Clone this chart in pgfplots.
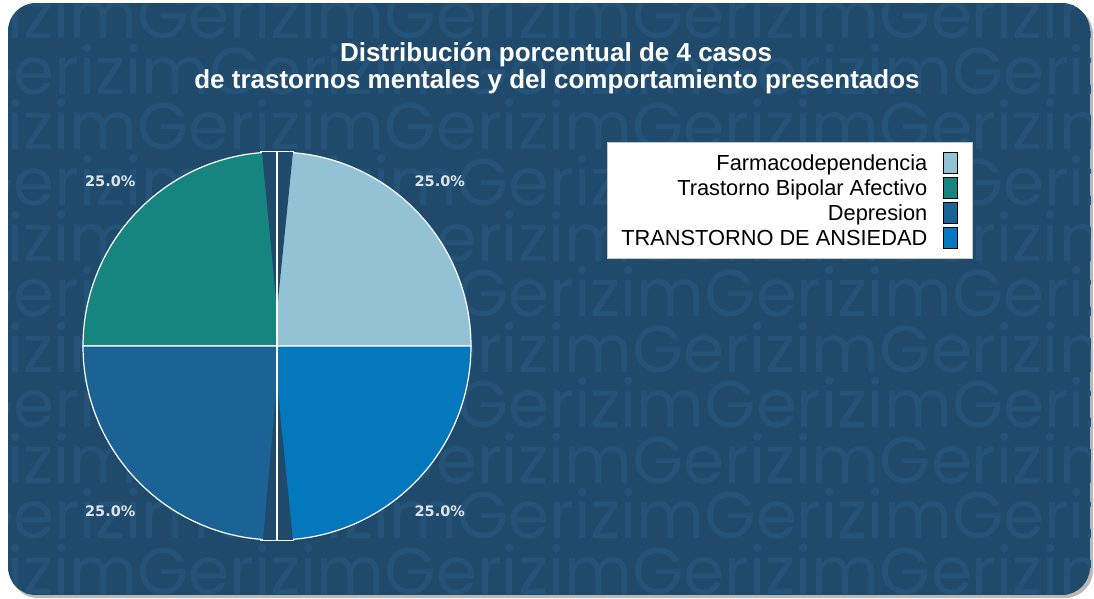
\documentclass[border=0pt]{standalone}
\usepackage{pgfplots}
\usepackage{pgfplotstable}
\pgfplotsset{compat=1.18}
\usetikzlibrary{calc}
\usepackage{fontspec}
\setmainfont{Liberation Sans}
\newfontfamily\wmfont{Poppins}
\newfontfamily\lblfont{DejaVu Sans}
\definecolor{bg}{HTML}{1F4A6C}
\definecolor{wm}{HTML}{255277}
\definecolor{c1}{HTML}{92C2D4}
\definecolor{c2}{HTML}{17857F}
\definecolor{c3}{HTML}{1B6394}
\definecolor{c4}{HTML}{0478BD}
\definecolor{lbl}{HTML}{DCE5EE}
\pgfplotstableread[col sep=comma]{
name,value,color
Farmacodependencia,1,c1
Trastorno Bipolar Afectivo,1,c2
Depresion,1,c3
TRANSTORNO DE ANSIEDAD,1,c4
}\piedata
\def\cx{277}\def\cy{252}\def\rad{194}
\begin{document}
\begin{tikzpicture}
\begin{axis}[width=1094pt,height=598pt,scale only axis,
  xmin=0,xmax=1094,ymin=0,ymax=598,hide axis,clip=false,
  legend style={at={(axis cs:972,456)},anchor=north east,draw=gray!45,fill=white,
    font=\fontsize{21.8}{24}\selectfont,inner xsep=14pt,inner ysep=8pt,
    row sep=0pt,column sep=0pt,
    nodes={inner sep=0pt,text height=20.7pt,text depth=4.3pt}},
  legend cell align=right,
  legend plot pos=right,
  legend image code/.code={\path[draw=none,fill=none] (0pt,0pt) -- (30pt,0pt);
    \draw[#1] (16pt,-10.5pt) rectangle (30pt,10.5pt);}]
\pgfplotsextra{%
  \fill[white] (axis cs:0,0) rectangle (axis cs:1094,598);
  \fill[gray!55,rounded corners=28pt] (axis cs:10,0) rectangle (axis cs:1093,592);
  \begin{scope}
  \clip[rounded corners=28pt] (axis cs:8,3) rectangle (axis cs:1090,595);
  \fill[bg] (axis cs:8,3) rectangle (axis cs:1090,595);
  \foreach \k in {0,...,10}{%
    \pgfmathsetmacro\yy{598-(39+55.5*\k)}%
    \pgfmathsetmacro\xx{mod(\k,2)==0 ? -110 : -285}%
    \node[anchor=base west,inner sep=0pt,text=wm,font=\wmfont\fontsize{66}{66}\selectfont]
      at (axis cs:\xx,\yy) {GerizimGerizimGerizimGerizimGerizimGerizim};
  }%
  \end{scope}
  \node[anchor=base,inner sep=0pt,text=white,font=\bfseries\fontsize{26}{27}\selectfont]
    at (axis cs:556,536) {Distribución porcentual de 4 casos};
  \node[anchor=base,inner sep=0pt,text=white,font=\bfseries\fontsize{26}{27}\selectfont]
    at (axis cs:557,509) {de trastornos mentales y del comportamiento presentados};
  \gdef\tot{0}%
  \pgfplotstablegetrowsof{\piedata}\pgfmathtruncatemacro\last{\pgfplotsretval-1}%
  \foreach \i in {0,...,\last}{\pgfplotstablegetelem{\i}{value}\of\piedata
    \pgfmathsetmacro\t{\tot+\pgfplotsretval}\global\let\tot\t}%
  \gdef\acc{0}%
  \foreach \i in {0,...,\last}{%
    \pgfplotstablegetelem{\i}{value}\of\piedata \let\v\pgfplotsretval
    \pgfplotstablegetelem{\i}{color}\of\piedata \let\col\pgfplotsretval
    \pgfmathsetmacro\a{360*\acc/\tot}%
    \pgfmathsetmacro\b{360*(\acc+\v)/\tot}%
    \pgfmathsetmacro\m{(\a+\b)/2}%
    \pgfmathsetmacro\pct{100*\v/\tot}%
    \fill[fill=\col,draw=white,line width=1.2pt] (axis cs:\cx,\cy) -- ++(\a:\rad pt)
      arc[start angle=\a,end angle=\b,radius=\rad pt] -- cycle;
    \node[text=lbl,font=\lblfont\bfseries\fontsize{14.5}{16}\selectfont]
      at ($(axis cs:\cx-2,\cy)+(\m:233pt)$)
      {\pgfmathprintnumber[fixed,fixed zerofill,precision=1,assume math mode=true]{\pct}\%};
    \pgfmathsetmacro\n{\acc+\v}\global\let\acc\n
  }%
  \fill[bg] (axis cs:262,446) -- (axis cs:293,446) -- (axis cs:\cx,288) -- cycle;
  \fill[bg] (axis cs:263,58) -- (axis cs:293,58) -- (axis cs:\cx,215) -- cycle;
  \draw[white,line width=1.2pt] (axis cs:\cx,446) -- (axis cs:\cx,58);
  \draw[white,line width=1.2pt] (axis cs:260,446.2) -- (axis cs:294,446.2);
  \draw[white,line width=1.2pt] (axis cs:260,57.8) -- (axis cs:294,57.8);
}
\addlegendimage{fill=c1,draw=black,line width=1pt}
\addlegendentry{Farmacodependencia}
\addlegendimage{fill=c2,draw=black,line width=1pt}
\addlegendentry{Trastorno Bipolar Afectivo}
\addlegendimage{fill=c3,draw=black,line width=1pt}
\addlegendentry{Depresion}
\addlegendimage{fill=c4,draw=black,line width=1pt}
\addlegendentry{TRANSTORNO DE ANSIEDAD}
\end{axis}
\end{tikzpicture}
\end{document}
